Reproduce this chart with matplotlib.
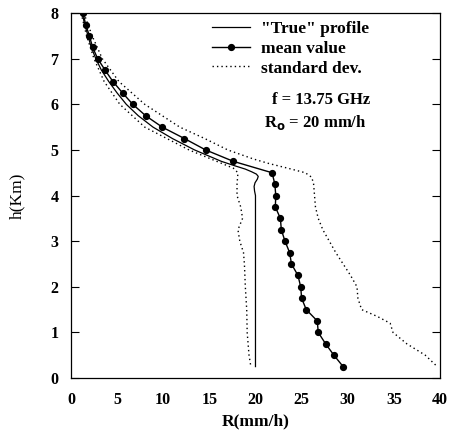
import numpy as np
import matplotlib
matplotlib.use('Agg')
import matplotlib.pyplot as plt

plt.rcParams['font.family'] = ['Liberation Serif', 'DejaVu Serif']
plt.rcParams['font.weight'] = 'bold'

# mean value of retrieved profile (every 0.25 km)
h_mean = [8.0, 7.75, 7.5, 7.25, 7.0, 6.75, 6.5, 6.25, 6.0, 5.75, 5.5, 5.25, 5.0, 4.75,
          4.5, 4.25, 4.0, 3.75, 3.5, 3.25, 3.0, 2.75, 2.5, 2.25, 2.0, 1.75, 1.5, 1.25,
          1.0, 0.75, 0.5, 0.25]
r_mean = [1.3, 1.6, 2.0, 2.35, 2.9, 3.7, 4.55, 5.6, 6.7, 8.1, 9.9, 12.3, 14.6, 17.6,
          21.8, 22.1, 22.2, 22.15, 22.7, 22.8, 23.2, 23.7, 23.9, 24.6, 24.9, 25.0, 25.5, 26.7,
          26.8, 27.6, 28.5, 29.5]

# "true" profile
h_true = [8.0, 7.75, 7.5, 7.25, 7.0, 6.75, 6.5, 6.25, 6.0, 5.75, 5.5, 5.25, 5.0, 4.75,
          4.65, 4.58, 4.52, 4.47, 4.42, 4.36, 4.28, 4.2, 4.1, 4.0, 0.25]
r_true = [1.2, 1.5, 1.85, 2.2, 2.7, 3.3, 4.1, 5.0, 6.0, 7.3, 8.9, 11.0, 13.4, 16.3,
          17.8, 18.9, 19.6, 20.1, 20.3, 20.2, 19.95, 19.85, 19.9, 20.0, 20.0]

# mean - std
h_low = [8.0, 7.5, 7.0, 6.5, 6.0, 5.5, 5.0, 4.75, 4.6, 4.5, 4.25, 4.0, 3.75, 3.5,
         3.25, 3.0, 2.75, 2.5, 2.0, 1.5, 1.0, 0.5, 0.25]
r_low = [1.1, 1.7, 2.5, 3.6, 5.3, 8.0, 12.8, 15.8, 17.6, 18.1, 18.0, 18.0, 18.4, 18.6,
         18.1, 18.3, 18.7, 18.8, 18.9, 19.05, 19.1, 19.3, 19.5]

# mean + std
h_high = [8.0, 7.5, 7.0, 6.5, 6.0, 5.5, 5.25, 5.0, 4.8, 4.7, 4.6, 4.5, 4.4, 4.25, 4.0, 3.75,
          3.5, 3.25, 3.0, 2.75, 2.5, 2.25, 2.0, 1.75, 1.5, 1.35, 1.2, 1.0, 0.75, 0.5, 0.25]
r_high = [1.4, 2.3, 3.4, 5.2, 8.0, 11.8, 14.5, 17.0, 19.8, 21.5, 23.5, 25.4, 26.1, 26.3, 26.4, 26.5,
          26.8, 27.3, 28.0, 28.7, 29.5, 30.3, 31.0, 31.1, 31.5, 33.2, 34.6, 34.9, 36.4, 38.4, 39.7]

fig = plt.figure(figsize=(4.49, 4.37), dpi=100)
ax = fig.add_axes([0.158, 0.135, 0.822, 0.835])

ax.plot(r_true, h_true, color='black', lw=0.9, label='"True" profile')
ax.plot(r_mean, h_mean, color='black', lw=1.0, marker='o', ms=4.2, label='mean value')
ax.plot(r_low, h_low, color='black', lw=1.0, ls=(0, (1, 2.2)), label='standard dev.')
ax.plot(r_high, h_high, color='black', lw=1.0, ls=(0, (1, 2.2)))

ax.set_xlim(0, 40)
ax.set_ylim(0, 8)
ax.set_xticks(range(0, 41, 5))
ax.set_yticks(range(0, 9))
ax.tick_params(axis='y', direction='in', length=6, right=True, labelsize=11.5, width=0.8, pad=9)
ax.tick_params(axis='x', length=0, labelsize=11.5, pad=10)
for s in ax.spines.values():
    s.set_linewidth(0.9)

ax.set_xlabel('R(mm/h)', fontsize=12.5, fontweight='bold', labelpad=4)
ax.set_ylabel('h(Km)', fontsize=12.5, fontweight='normal', labelpad=18)

ax.legend(loc='upper left', frameon=False, fontsize=12.5, handlelength=2.2,
          borderpad=0, borderaxespad=0, labelspacing=0.2, handletextpad=0.65,
          bbox_to_anchor=(0.382, 0.978))

ax.text(0.545, 0.762, 'f = 13.75 GHz', transform=ax.transAxes, fontsize=12,
        fontweight='bold', va='center')
ax.text(0.523, 0.70, r'R$_{\mathbf{o}}$ = 20 mm/h', transform=ax.transAxes, fontsize=12,
        fontweight='bold', va='center')

fig.savefig('out.png', dpi=100)
